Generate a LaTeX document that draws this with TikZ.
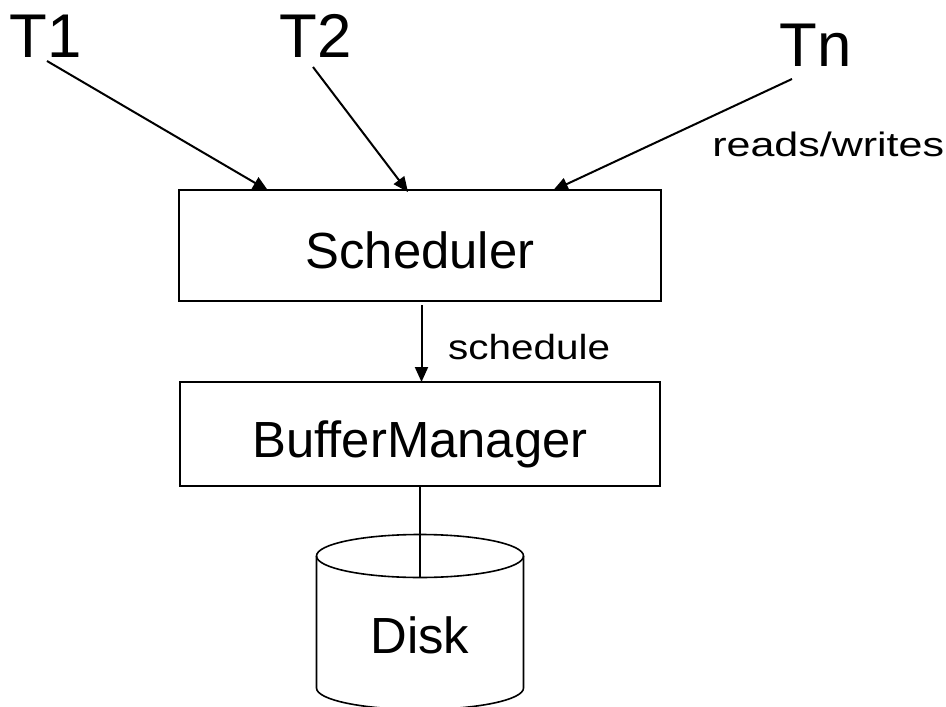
\documentclass[tikz,border=0pt]{standalone}
\usepackage{fontspec}
\setmainfont{Liberation Sans}
\usetikzlibrary{arrows.meta}

\tikzset{
  txt/.style={inner sep=0pt, anchor=base},
  box/.style={draw, line width=2bp, inner sep=0pt},
  flow/.style={line width=2bp, -{Triangle[length=15bp,width=13bp]}},
  plain/.style={line width=1.3bp},
}

\begin{document}
\begin{tikzpicture}[x=1bp, y=-1bp]
  \useasboundingbox (0,0) rectangle (946,707);

  % transactions
  \node[txt, font=\fontsize{62}{70}\selectfont] (t1) at (46,58) {T1};
  \node[txt, font=\fontsize{62}{70}\selectfont] (t2) at (316,58) {T2};
  \node[txt, font=\fontsize{62}{70}\selectfont] (tn) at (816,67) {Tn};

  % scheduler and buffer manager boxes
  \node[box, minimum width=481bp, minimum height=110bp] (sched) at (420,245.5) {};
  \node[txt, font=\fontsize{51}{60}\selectfont] at (420,268) {Scheduler};

  \node[box, minimum width=480bp, minimum height=104bp] (bm) at (420,434) {};
  \node[txt, font=\fontsize{51}{60}\selectfont] at (420,457) {BufferManager};

  % anchor points on the box edges
  \coordinate (s1) at (268,190.5);
  \coordinate (s2) at (408,192);
  \coordinate (sn) at (553,190.5);
  \coordinate (t1e) at (47,61);
  \coordinate (t2e) at (313,67);
  \coordinate (tne) at (792,79);

  \draw[flow] (t1e) -- (s1);
  \draw[flow] (t2e) -- (s2);
  \draw[flow] (tne) -- (sn);
  \node[txt, anchor=base west, xscale=1.27, font=\fontsize{34}{40}\selectfont] at (712,157) {reads/writes};

  % scheduler -> buffer manager
  \coordinate (sb) at (421.5,305);
  \coordinate (bt) at (421.5,382);
  \draw[flow] (sb) -- (bt);
  \node[txt, anchor=base west, xscale=1.16, font=\fontsize{35}{40}\selectfont] at (448,359) {schedule};

  % disk cylinder
  \def\rx{103.5}\def\ry{21.5}
  \draw[line width=1.6bp]
    (316.5,556) -- (316.5,688)
    arc[start angle=180, end angle=360, x radius=\rx, y radius=-\ry]
    -- (523.5,556);
  \draw[line width=1.6bp] (420,556) ellipse[x radius=\rx, y radius=\ry];
  \coordinate (diskfront) at (420,577.5);
  \node[txt, font=\fontsize{51}{60}\selectfont] (disk) at (420,653) {Disk};

  \draw[plain] (bm.south -| diskfront) -- (diskfront);
\end{tikzpicture}
\end{document}
